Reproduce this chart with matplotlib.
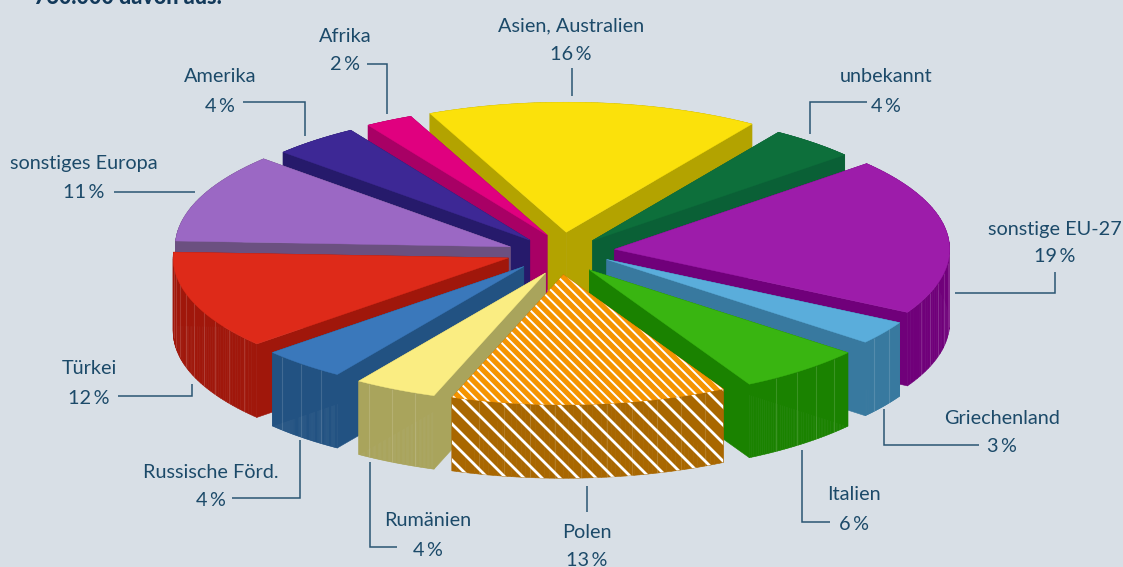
import numpy as np
import matplotlib
matplotlib.use("Agg")
import matplotlib.pyplot as plt
from matplotlib.patches import Polygon
from matplotlib.collections import LineCollection, PolyCollection

categories = ["Asien, Australien", "unbekannt", "sonstige EU-27", "Griechenland", "Italien", "Polen",
              "Rumänien", "Russische Förd.", "Türkei", "sonstiges Europa", "Amerika", "Afrika"]
labels_pct = [16, 4, 19, 3, 6, 13, 4, 4, 12, 11, 4, 2]
shares = [16.0, 4.2, 19.5, 2.9, 6.1, 13.3, 4.0, 4.1, 12.2, 11.1, 4.2, 2.3]
top_colors = ["#fbe10b", "#0d6f3b", "#9d1caa", "#5aaddb", "#39b511", "#f59400",
              "#faed82", "#3a78bb", "#de2a19", "#9b68c4", "#3d2895", "#e0007f"]
wall_colors = ["#b3a300", "#0a6036", "#70007a", "#38799f", "#1a8200", "#a96700",
               "#a9a45c", "#225282", "#a0170b", "#6b5080", "#261a6b", "#a80065"]
BG = "#d8dfe6"
INK = "#1c4a69"
LEAD = "#2a5573"

label_pos = [(571, 26, 55), (886, 77, 106), (1055, 229, 257), (1002, 418, 447), (854, 495, 524), (587, 532, 561),
             (428, 521, 550), (211, 472, 501), (89, 369, 398), (84, 164, 193), (220, 77, 106), (345, 36, 65)]
leaders = [[(572, 68), (572, 96)], [(810, 134), (810, 102), (867, 102)],
           [(955, 293), (1055, 293), (1055, 272)], [(884, 409), (884, 445), (979, 445)],
           [(802, 450), (802, 522), (830, 522)], [(587, 486), (587, 512)],
           [(370, 462), (370, 547), (397, 547)], [(232, 498), (300, 498), (300, 440)],
           [(118, 396), (192, 396), (192, 384)], [(114, 192), (195, 192)],
           [(243, 102), (305, 102), (305, 136)], [(367, 64), (387, 64), (387, 114)]]

# Explosion layout: radial pull-out plus a small per-slice correction (pixels)
CX, CY, RX, RY = 560.0, 253.5, 335.0, 130.0
EXP = 0.164
START = -24.0
DEPTH = 73.5
nudge = [(1.6, 0), (-3.5, 3), (0, -2), (1.4, -6), (-5.5, 0), (-1, 0),
         (10, 0.5), (0, -3), (0, -2.6), (1, 1.5), (5, 3), (13, 0.4)]

fig = plt.figure(figsize=(11.23, 5.67), dpi=100, facecolor=BG)
ax = fig.add_axes([0, 0, 1, 1])
ax.set_xlim(0, 1123)
ax.set_ylim(567, 0)
ax.axis("off")

ang = np.array(shares, float) / np.sum(shares) * 360
ends = START + np.cumsum(ang)
starts = ends - ang
mids = (starts + ends) / 2


def pt(a, r=1.0, ox=0.0, oy=0.0):
    t = np.radians(a)
    return ox + RX * r * np.sin(t), oy - RY * r * np.cos(t)


def stripes(clip, spacing, width, color, y0, y1):
    segs = [[(c + y0, y0), (c + y1, y1)] for c in np.arange(-800, 1600, spacing)]
    lc = LineCollection(segs, colors=color, linewidths=width, zorder=clip.get_zorder())
    ax.add_collection(lc)
    lc.set_clip_path(clip)


origins = [(CX + RX * EXP * np.sin(np.radians(m)) + n[0], CY - RY * EXP * np.cos(np.radians(m)) + n[1])
           for m, n in zip(mids, nudge)]
order = np.argsort([o[1] for o in origins])
for z, i in enumerate(order):
    ox, oy = origins[i]
    arc_a = np.linspace(starts[i], ends[i], 60)
    ax_, ay_ = pt(arc_a, 1.0, ox, oy)
    base = 10 + z * 3
    # cut faces
    faces = []
    for a in (starts[i], ends[i]):
        ex, ey = pt(a, 1.0, ox, oy)
        faces.append([(ox, oy), (ex, ey), (ex, ey + DEPTH), (ox, oy + DEPTH)])
    ax.add_collection(PolyCollection(faces, facecolors=wall_colors[i], edgecolors=wall_colors[i],
                                     linewidths=0.4, zorder=base))
    # outer wall as quads
    quads = [[(ax_[k], ay_[k]), (ax_[k + 1], ay_[k + 1]), (ax_[k + 1], ay_[k + 1] + DEPTH), (ax_[k], ay_[k] + DEPTH)]
             for k in range(len(arc_a) - 1)]
    ax.add_collection(PolyCollection(quads, facecolors=wall_colors[i], edgecolors=wall_colors[i],
                                     linewidths=0.4, zorder=base))
    # faint facet lines on the front-facing part of the outer wall
    fa = np.arange(starts[i] + 3.5, ends[i] - 1, 4.4)
    fa = fa[np.cos(np.radians(fa)) < -0.02]
    fx, fy = pt(fa, 1.0, ox, oy)
    seg = [[(x, y), (x, y + DEPTH)] for x, y in zip(fx, fy)]
    ax.add_collection(LineCollection(seg, colors="white", alpha=0.14, linewidths=0.8, zorder=base + 0.3))
    # top
    top_xy = np.vstack([[ox, oy], np.column_stack([ax_, ay_])])
    top = Polygon(top_xy, closed=True, facecolor=top_colors[i], edgecolor=top_colors[i], lw=0.3, zorder=base + 1)
    ax.add_patch(top)
    if categories[i] == "Polen":
        clip_w = Polygon(np.vstack([np.column_stack([ax_, ay_]),
                                    np.column_stack([ax_, ay_ + DEPTH])[::-1]]),
                         closed=True, facecolor="none", edgecolor="none", zorder=base + 0.5)
        ax.add_patch(clip_w)
        stripes(clip_w, 18, 2.0, "white", 300, 520)
        stripes(top, 10.2, 1.4, "white", 240, 420)

for i, name in enumerate(categories):
    x, y1, y2 = label_pos[i]
    ax.text(x, y1, name, ha="center", va="center", fontsize=14.3, color=INK, family=["Lato", "DejaVu Sans"], zorder=100)
    ax.text(x, y2, f"{labels_pct[i]}\u2009%", ha="center", va="center", fontsize=14.3, color=INK,
            family=["Lato", "DejaVu Sans"], zorder=100)
    xs, ys = zip(*leaders[i])
    ax.plot(xs, ys, color=LEAD, lw=1.1, solid_joinstyle="miter", solid_capstyle="butt", zorder=99)

ax.text(34, -2, "760.000 davon aus:", ha="left", va="center", fontsize=15.5, fontweight="black", color="#12395a",
        family="Lato", zorder=100, clip_on=False)

fig.savefig("out.png", dpi=100, facecolor=BG)
